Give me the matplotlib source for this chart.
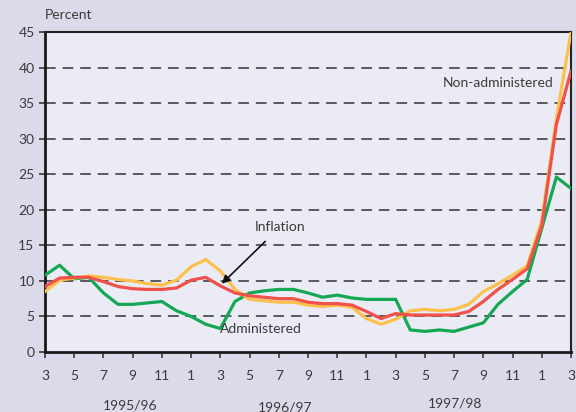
import matplotlib
matplotlib.use('Agg')
import matplotlib.pyplot as plt
import numpy as np

# monthly index, March 1995 to March 1998
months = np.arange(37)
tick_labels = ['3', '5', '7', '9', '11', '1'] * 3 + ['3']
year_labels = ['1995/96', '1996/97', '1997/98']

administered = [10.8, 12.2, 10.3, 10.5, 8.3, 6.7, 6.7, 6.9, 7.1, 5.8, 5.0, 3.9, 3.3,
                7.1, 8.3, 8.6, 8.8, 8.8, 8.3, 7.7, 8.0, 7.6, 7.4, 7.4, 7.4,
                3.1, 2.9, 3.1, 2.9, 3.5, 4.1, 6.7, 8.5, 10.2, 17.4, 24.6, 23.0]
non_administered = [8.5, 10.1, 10.4, 10.7, 10.5, 10.2, 10.0, 9.6, 9.4, 10.1, 12.0, 13.0, 11.4,
                    8.8, 7.4, 7.2, 7.0, 7.0, 6.6, 6.4, 6.6, 6.3, 4.7, 3.9, 4.6,
                    5.8, 6.0, 5.8, 6.0, 6.7, 8.5, 9.6, 10.8, 12.1, 18.5, 32.8, 45.0]
inflation = [9.2, 10.4, 10.5, 10.5, 9.9, 9.2, 8.9, 8.8, 8.8, 9.0, 10.1, 10.5, 9.3,
             8.3, 7.9, 7.7, 7.5, 7.5, 7.0, 6.8, 6.8, 6.6, 5.7, 4.7, 5.4,
             5.2, 5.2, 5.2, 5.2, 5.7, 7.1, 8.8, 10.2, 11.7, 17.8, 32.0, 39.5]

plt.rcParams['font.family'] = ['Lato', 'DejaVu Sans']
txt = '#3a3a3a'

fig = plt.figure(figsize=(5.76, 4.12), dpi=100, facecolor='#dadaea')
ax = fig.add_axes([45 / 576, 60 / 412, 526 / 576, 320 / 412])
ax.set_facecolor('#ebebf5')

for y in range(5, 45, 5):
    ax.axhline(y, color='#333333', lw=1.1, dashes=(7, 4.5), zorder=1)

ax.plot(months, administered, color='#14a854', lw=2.3, zorder=3)
ax.plot(months, non_administered, color='#fdc04a', lw=2.3, zorder=3)
ax.plot(months, inflation, color='#f0524a', lw=2.3, zorder=4)

ax.set_xlim(0, 36)
ax.set_ylim(0, 45)
ax.set_yticks(range(0, 50, 5))
ax.set_xticks(months[::2])
ax.set_xticklabels(tick_labels)
ax.tick_params(axis='both', colors=txt, labelsize=10, length=4, width=1.2,
               direction='out')
ax.tick_params(axis='x', pad=9)
for lab in ax.get_xticklabels() + ax.get_yticklabels():
    lab.set_color(txt)
for side in ['left', 'bottom']:
    ax.spines[side].set_linewidth(2)
    ax.spines[side].set_color('#1a1a1a')
for side in ['top', 'right']:
    ax.spines[side].set_linewidth(1.5)
    ax.spines[side].set_color('#222222')

fig.text(45 / 576, 1 - 15 / 412, 'Percent', color=txt, fontsize=10, ha='left', va='center')
for lab, xpix, ypix in zip(year_labels, [130, 285, 455], [405, 407, 403]):
    fig.text(xpix / 576, 1 - ypix / 412, lab, color=txt, fontsize=10, ha='center', va='center')

ax.text(27.2, 37.8, 'Non-administered', color=txt, fontsize=10, ha='left', va='center')
ax.text(12.0, 3.2, 'Administered', color=txt, fontsize=10, ha='left', va='center')
ax.annotate('Inflation', xy=(12.1, 9.6), xytext=(16.1, 17.6), color=txt, fontsize=10,
            ha='center', va='center',
            arrowprops=dict(arrowstyle='-|>', color='#111111', lw=1.2,
                            shrinkA=6, shrinkB=0, mutation_scale=12))

fig.savefig('out.png', dpi=100, facecolor=fig.get_facecolor())
